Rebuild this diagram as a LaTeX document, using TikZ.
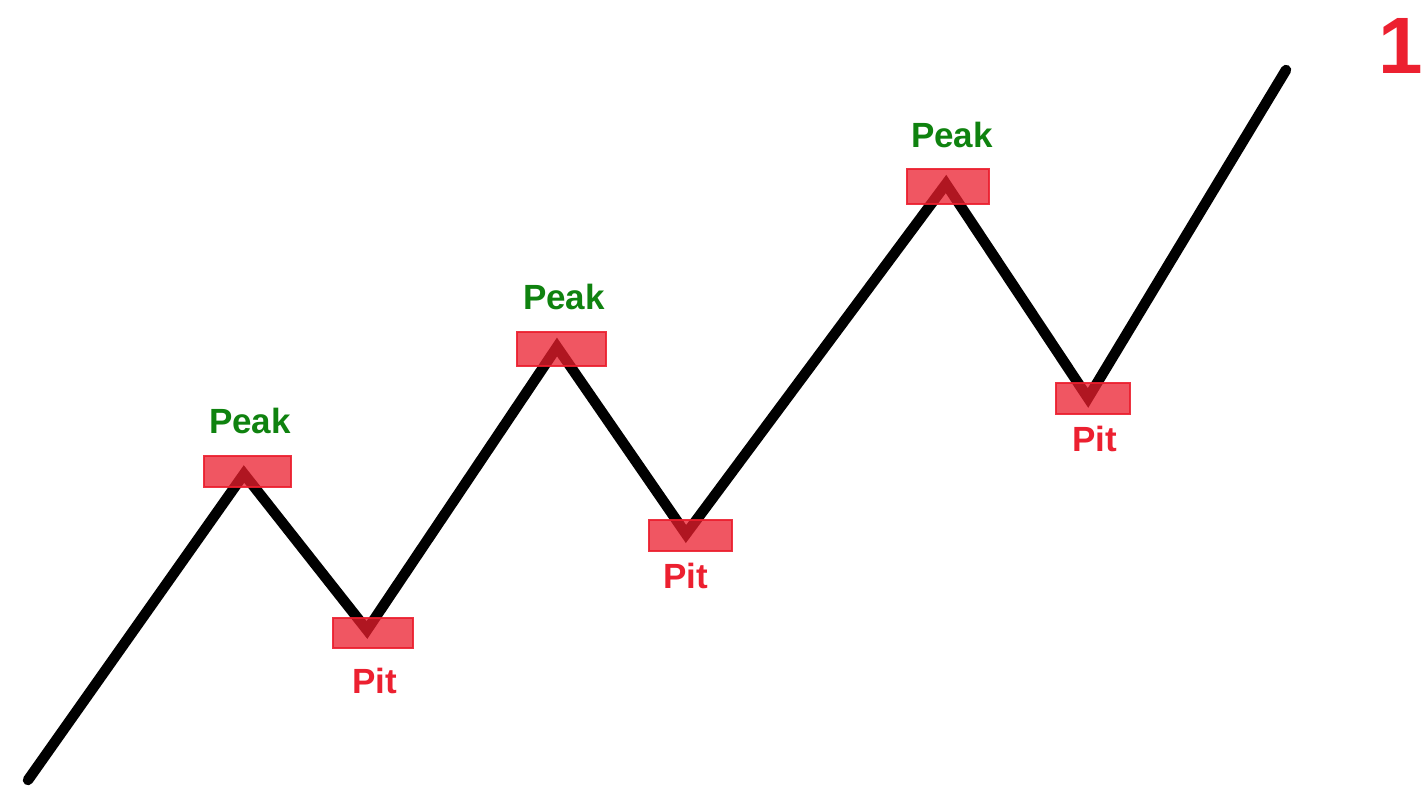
\documentclass[tikz,border=0pt]{standalone}
\usepackage{fontspec}
\setmainfont{Liberation Sans}
\definecolor{peakgreen}{RGB}{15,130,15}
\definecolor{pitred}{RGB}{236,32,48}
\definecolor{boxred}{RGB}{235,30,45}
\tikzset{
  trend/.style={line width=10.5pt, line cap=round, line join=miter, black},
  marker/.style={draw=boxred, line width=1.2pt, fill=boxred, fill opacity=0.75, draw opacity=0.9, inner sep=0pt, minimum width=#1},
  peaklbl/.style={text=peakgreen, font=\fontsize{35}{40}\selectfont\bfseries, inner sep=0pt, anchor=base},
  pitlbl/.style={text=pitred, font=\fontsize{35}{40}\selectfont\bfseries, inner sep=0pt, anchor=base},
}
\begin{document}
\begin{tikzpicture}[x=1pt,y=-1pt]
\useasboundingbox (0,0) rectangle (1423,786);
% vertices of the trend line
\coordinate (s)  at (28,780);
\coordinate (v1) at (244,474);
\coordinate (w1) at (367,630);
\coordinate (v2) at (557,347);
\coordinate (w2) at (686,534);
\coordinate (v3) at (946,184);
\coordinate (w3) at (1088,398);
\coordinate (e)  at (1286,70);
\draw[trend] (s) -- (v1) -- (w1) -- (v2) -- (w2) -- (v3) -- (w3) -- (e);
% markers
\node[marker=87pt, minimum height=31pt] (b1) at (247.5,471.5) {};
\node[marker=80pt, minimum height=30pt] (c1) at (373,633) {};
\node[marker=89pt, minimum height=34pt] (b2) at (561.5,349) {};
\node[marker=83pt, minimum height=31pt] (c2) at (690.5,535.5) {};
\node[marker=82pt, minimum height=35pt] (b3) at (948,186.5) {};
\node[marker=74pt, minimum height=31pt] (c3) at (1093,398.5) {};
% labels
\node[peaklbl] (p1) at (250,433) {Peak};
\node[peaklbl] (p2) at (564,309) {Peak};
\node[peaklbl] (p3) at (952,148) {Peak};
\node[pitlbl] (q1) at (375,693) {Pit};
\node[pitlbl] (q2) at (686,588) {Pit};
\node[pitlbl] (q3) at (1095,451) {Pit};
% figure number
\node[text=pitred, font=\fontsize{80}{84}\selectfont\bfseries, inner sep=0pt, anchor=base east] (num) at (1423,74) {1};
\end{tikzpicture}
\end{document}
